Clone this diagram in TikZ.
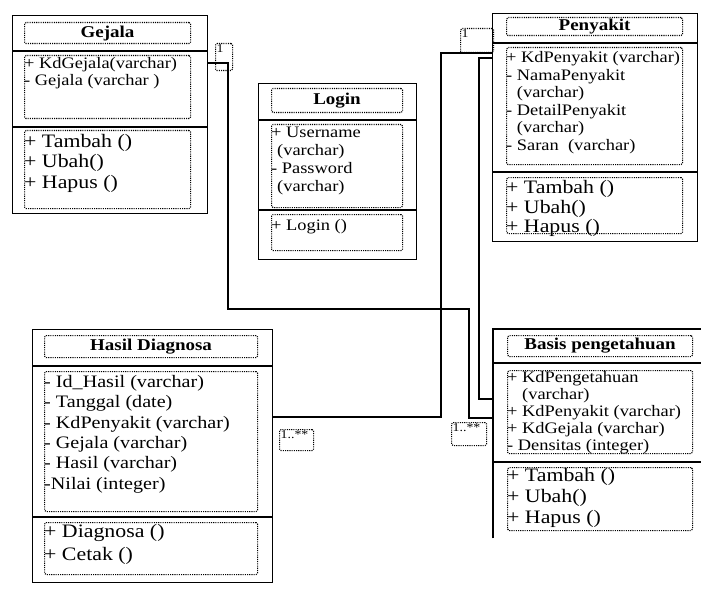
\documentclass[tikz,border=0pt]{standalone}
\usepackage{fontspec}
\setmainfont{Liberation Serif}[FakeStretch=1.15]

\begin{document}
\begin{tikzpicture}[x=1pt, y=-1pt,
    classbox/.style={rectangle, draw, line width=1.3pt, anchor=north west, inner sep=0pt},
    dotbox/.style={rectangle, draw, line width=1.1pt, dash pattern=on 1.1pt off 1.1pt, rounded corners=1.5pt, anchor=north west, inner sep=0pt},
    head/.style={dotbox, font=\fontsize{16.5}{18}\selectfont\bfseries},
    attr/.style={anchor=north west, inner sep=0pt, align=left, font=\fontsize{16}{17.5}\selectfont},
    meth/.style={anchor=north west, inner sep=0pt, align=left, font=\fontsize{19}{20.5}\selectfont},
    mult/.style={dotbox, label={[anchor=north west, inner sep=1.5pt, font=\fontsize{12}{12}\selectfont]north west:#1}},
    link/.style={line width=1.3pt}
  ]
  \useasboundingbox (0,0) rectangle (701,607);

  % Gejala
  \node[classbox, minimum width=195pt, minimum height=198pt] (gejala) at (12,15) {};
  \draw[link] (12,51) -- (207,51) (12,127) -- (207,127);
  \node[head, minimum width=166pt, minimum height=21pt] (gejalaHead) at (24,22) {Gejala};
  \node[dotbox, minimum width=166pt, minimum height=63pt] (gejalaAttr) at (24,55) {};
  \node[attr] (gejalaAttrTxt) at ([yshift=-2pt]gejalaAttr.north west) {+ KdGejala(varchar)\\- Gejala (varchar )};
  \node[dotbox, minimum width=166pt, minimum height=78pt] (gejalaOp) at (24,130) {};
  \node[meth] (gejalaOpTxt) at ([yshift=-4pt]gejalaOp.north west) {+ Tambah ()\\+ Ubah()\\+ Hapus ()};

  % Login
  \node[classbox, minimum width=158pt, minimum height=176pt] (login) at (258,83) {};
  \draw[link] (258,120) -- (416,120) (258,210) -- (416,210);
  \node[head, minimum width=131pt, minimum height=24pt] (loginHead) at (271,88) {Login};
  \node[dotbox, minimum width=131pt, minimum height=83pt] (loginAttr) at (271,124) {};
  \node[attr, font=\fontsize{16}{18}\selectfont] (loginAttrTxt) at ([yshift=-2.5pt]loginAttr.north west) {+ Username\\\hspace*{6pt}(varchar)\\- Password\\\hspace*{6pt}(varchar)};
  \node[dotbox, minimum width=131pt, minimum height=36pt] (loginOp) at (271,214) {};
  \node[attr] (loginOpTxt) at ([yshift=-5.5pt]loginOp.north west) {+ Login ()};

  % Penyakit
  \node[classbox, minimum width=205pt, minimum height=228pt] (penyakit) at (492,13) {};
  \draw[link] (492,43) -- (697,43) (492,172) -- (697,172);
  \node[head, minimum width=176pt, minimum height=18pt] (penyakitHead) at (506,17) {Penyakit};
  \node[dotbox, minimum width=176pt, minimum height=117pt] (penyakitAttr) at (506,47) {};
  \node[attr] (penyakitAttrTxt) at ([yshift=-4.5pt]penyakitAttr.north west) {+ KdPenyakit (varchar)\\- NamaPenyakit\\\phantom{- }(varchar)\\- DetailPenyakit\\\phantom{- }(varchar)\\- Saran~ (varchar)};
  \node[dotbox, minimum width=176pt, minimum height=56pt] (penyakitOp) at (506,177) {};
  \node[meth, font=\fontsize{19}{19.5}\selectfont] (penyakitOpTxt) at ([yshift=-3.5pt]penyakitOp.north west) {+ Tambah ()\\+ Ubah()\\+ Hapus ()};

  % Hasil Diagnosa
  \node[classbox, minimum width=240pt, minimum height=253pt] (hasil) at (32,329) {};
  \draw[link] (32,366) -- (272,366) (32,517) -- (272,517);
  \node[head, minimum width=213pt, minimum height=22pt] (hasilHead) at (44,335) {Hasil Diagnosa};
  \node[dotbox, minimum width=213pt, minimum height=140pt] (hasilAttr) at (44,371) {};
  \node[attr, font=\fontsize{17.5}{20.4}\selectfont] (hasilAttrTxt) at ([yshift=-4pt]hasilAttr.north west) {- Id\_Hasil (varchar)\\- Tanggal (date)\\- KdPenyakit (varchar)\\- Gejala (varchar)\\- Hasil (varchar)\\-Nilai (integer)};
  \node[dotbox, minimum width=213pt, minimum height=52pt] (hasilOp) at (44,522) {};
  \node[meth, font=\fontsize{19}{23}\selectfont] (hasilOpTxt) at ([yshift=-2.5pt]hasilOp.north west) {+ Diagnosa ()\\+ Cetak ()};

  % Basis pengetahuan
  \node[rectangle, anchor=north west, inner sep=0pt, minimum width=208pt, minimum height=209pt] (basis) at (493,329) {};
  \draw[link] (basis.south west) -- (basis.north west) -- (basis.north east);
  \draw[link] (493,363) -- (701,363);
  \draw[line width=2.2pt] (493,462) -- (701,462);
  \node[head, minimum width=185pt, minimum height=21pt] (basisHead) at (507,335) {Basis pengetahuan};
  \node[dotbox, minimum width=185pt, minimum height=83pt] (basisAttr) at (507,370) {};
  \node[attr, font=\fontsize{16}{17}\selectfont] (basisAttrTxt) at ([yshift=-1pt]basisAttr.north west) {+ KdPengetahuan\\\phantom{+ }(varchar)\\+ KdPenyakit (varchar)\\+ KdGejala (varchar)\\- Densitas (integer)};
  \node[dotbox, minimum width=185pt, minimum height=63pt] (basisOp) at (507,467) {};
  \node[meth, font=\fontsize{19}{21}\selectfont] (basisOpTxt) at ([yshift=-1pt]basisOp.north west) {+ Tambah ()\\+ Ubah()\\+ Hapus ()};

  % multiplicities
  \node[mult=1, minimum width=17pt, minimum height=27pt] (mGejala) at (215,43) {};
  \node[mult=1, minimum width=33pt, minimum height=24pt] (mPenyakit) at (460,28) {};
  \node[mult={1..**}, minimum width=34pt, minimum height=21pt] (mHasil) at (279,429) {};
  \node[mult={1..**}, minimum width=35pt, minimum height=23pt] (mBasis) at (451,422) {};

  % relations
  \draw[link] ([yshift=-48pt]gejala.north east) -| (228,309) -| (469,418) -- (basis.west |- 0,418);
  \draw[link] ([yshift=-40pt]penyakit.north west) -| (441,417) -- (hasil.east |- 0,417);
  \draw[link] ([yshift=-45pt]penyakit.north west) -| (479,399) -- (basis.west |- 0,399);
\end{tikzpicture}
\end{document}
